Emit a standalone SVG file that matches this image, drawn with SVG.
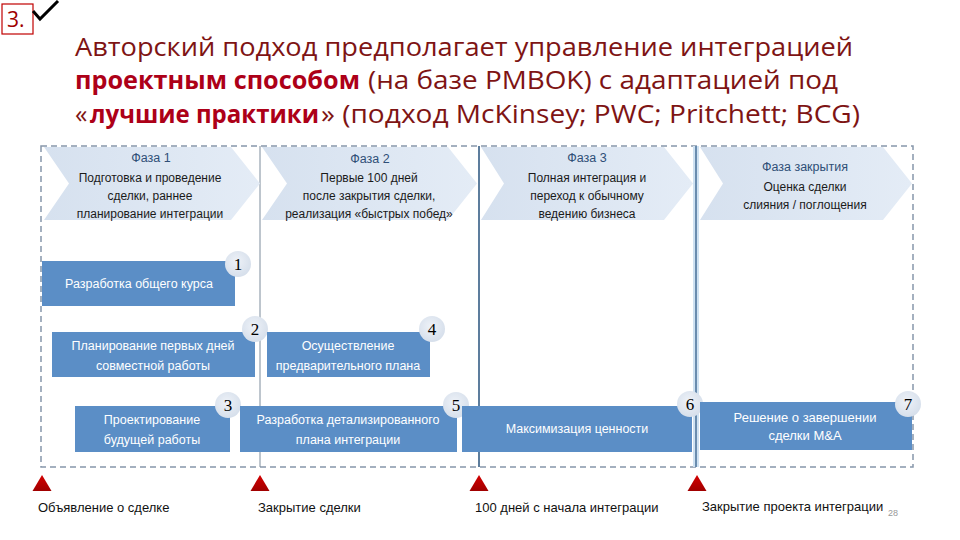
<svg xmlns="http://www.w3.org/2000/svg" width="960" height="540" viewBox="0 0 960 540">
<defs>
<linearGradient id="chev" x1="0" y1="0" x2="1" y2="0">
<stop offset="0" stop-color="#d6e1ef"/>
<stop offset="1" stop-color="#e4ecf6"/>
</linearGradient>
<radialGradient id="badge" cx="0.45" cy="0.4" r="0.6">
<stop offset="0" stop-color="#eef2f8"/>
<stop offset="1" stop-color="#d6dfeb"/>
</radialGradient>
<linearGradient id="tri" x1="0" y1="0" x2="0" y2="1">
<stop offset="0" stop-color="#d40000"/>
<stop offset="1" stop-color="#a00000"/>
</linearGradient>
</defs>
<style>
.title{font-family:"Open Sans","Noto Sans","Liberation Sans",sans-serif;font-size:25px;fill:#7e1414}
.titleb{font-family:"Open Sans","Noto Sans","Liberation Sans",sans-serif;font-size:25px;font-weight:bold;fill:#ad0018}
.chev{fill:url(#chev)}
.ph{font-family:"Liberation Sans","Noto Sans",sans-serif;font-size:12px;fill:#1a1a1a;text-anchor:middle}
.phh{font-family:"Liberation Sans","Noto Sans",sans-serif;font-size:12.5px;fill:#2f4f77;text-anchor:middle}
.box{fill:#5b8ec6}
.bt{font-family:"Liberation Sans","Noto Sans",sans-serif;font-size:12.5px;fill:#ffffff;text-anchor:middle}
.bt7{font-family:"Liberation Sans",Arial,sans-serif;font-size:13px;fill:#ffffff;text-anchor:middle}
.bdg{fill:url(#badge)}
.num{font-family:"Liberation Serif","Times New Roman",serif;font-size:17px;fill:#000;text-anchor:middle}
.frame{fill:none;stroke:#8797aa;stroke-width:1.5;stroke-dasharray:6 4}
.ms{fill:url(#tri)}
.lbl{font-family:"Liberation Sans","Noto Sans",sans-serif;font-size:13px;fill:#111}
</style>
<rect width="960" height="540" fill="#ffffff"/>

<g id="header">
<rect x="2" y="4" width="31" height="30" fill="#fff" stroke="#c00000" stroke-width="1.2"/>
<text x="7" y="27" font-family="Open Sans, Liberation Sans, sans-serif" font-size="21" fill="#a00000">3.</text>
<polyline points="33,11 40,19 58,1" fill="none" stroke="#000" stroke-width="3"/>
<text class="title" x="75" y="56" textLength="778" lengthAdjust="spacingAndGlyphs">Авторский подход предполагает управление интеграцией</text>
<text class="titleb" x="75" y="89" textLength="285" lengthAdjust="spacingAndGlyphs">проектным способом</text>
<text class="title" x="368" y="89" textLength="470" lengthAdjust="spacingAndGlyphs">(на базе PMBOK) с адаптацией под</text>
<text class="title" x="75" y="123">«</text>
<text class="titleb" x="90" y="123" textLength="229" lengthAdjust="spacingAndGlyphs">лучшие практики</text>
<text class="title" x="321" y="123" textLength="539" lengthAdjust="spacingAndGlyphs">» (подход McKinsey; PWC; Pritchett; BCG)</text>
</g>

<g id="frame">
<rect class="frame" x="41" y="146" width="872" height="321"/>
</g>

<g id="dividers">
<line x1="260" y1="146" x2="260" y2="467" stroke="#7d8c9c" stroke-width="1"/>
<line x1="479" y1="146" x2="479" y2="467" stroke="#5d7d9d" stroke-width="2"/>
<line x1="696" y1="146" x2="696" y2="467" stroke="#cfe2f2" stroke-width="6"/>
<line x1="696" y1="146" x2="696" y2="467" stroke="#6a8cae" stroke-width="2"/>
</g>

<g id="phase1">
<path class="chev" d="M44,147 L231,147 L260,183.5 L231,220 L44,220 L69,183.5 Z"/>
<text class="phh" x="151" y="162">Фаза 1</text>
<text class="ph" x="150" y="182">Подготовка и проведение</text>
<text class="ph" x="150" y="200">сделки, раннее</text>
<text class="ph" x="150" y="218">планирование интеграции</text>
</g>
<g id="phase2">
<path class="chev" d="M262,147 L448,147 L477,183.5 L448,220 L262,220 L287,183.5 Z"/>
<text class="phh" x="370" y="163">Фаза 2</text>
<text class="ph" x="369" y="182">Первые 100 дней</text>
<text class="ph" x="369" y="200">после закрытия сделки,</text>
<text class="ph" x="369" y="218">реализация «быстрых побед»</text>
</g>
<g id="phase3">
<path class="chev" d="M481,147 L664,147 L693,183.5 L664,220 L481,220 L504,183.5 Z"/>
<text class="phh" x="587" y="162">Фаза 3</text>
<text class="ph" x="587" y="182">Полная интеграция и</text>
<text class="ph" x="587" y="200">переход к обычному</text>
<text class="ph" x="587" y="218">ведению бизнеса</text>
</g>
<g id="phase-close">
<path class="chev" d="M700,147 L883,147 L912,183.5 L883,220 L700,220 L723,183.5 Z"/>
<text class="phh" x="805" y="171">Фаза закрытия</text>
<text class="ph" x="805" y="191">Оценка сделки</text>
<text class="ph" x="805" y="209">слияния / поглощения</text>
</g>

<g id="task1">
<rect class="box" x="42" y="261" width="193" height="45"/>
<text class="bt" x="139" y="288">Разработка общего курса</text>
<circle class="bdg" cx="238" cy="264" r="13"/>
<text class="num" x="238" y="270">1</text>
</g>
<g id="task2">
<rect class="box" x="52" y="332" width="203" height="45"/>
<text class="bt" x="153" y="350">Планирование первых дней</text>
<text class="bt" x="153" y="370">совместной работы</text>
<circle class="bdg" cx="255" cy="329" r="13"/>
<text class="num" x="255" y="335">2</text>
</g>
<g id="task3">
<rect class="box" x="75" y="406" width="155" height="46"/>
<text class="bt" x="152" y="424">Проектирование</text>
<text class="bt" x="152" y="444">будущей работы</text>
<circle class="bdg" cx="228" cy="405" r="13"/>
<text class="num" x="228" y="411">3</text>
</g>
<g id="task4">
<rect class="box" x="267" y="332" width="163" height="45"/>
<text class="bt" x="348" y="350">Осуществление</text>
<text class="bt" x="348" y="370">предварительного плана</text>
<circle class="bdg" cx="432" cy="329" r="13"/>
<text class="num" x="432" y="335">4</text>
</g>
<g id="task5">
<rect class="box" x="240" y="406" width="217" height="46"/>
<text class="bt" x="348" y="424">Разработка детализированного</text>
<text class="bt" x="348" y="444">плана интеграции</text>
<circle class="bdg" cx="456" cy="405" r="13"/>
<text class="num" x="456" y="411">5</text>
</g>
<g id="task6">
<rect class="box" x="462" y="406" width="230" height="46"/>
<text class="bt" x="577" y="433">Максимизация ценности</text>
<circle class="bdg" cx="690" cy="404" r="13"/>
<text class="num" x="690" y="410">6</text>
</g>
<g id="task7">
<rect class="box" x="700" y="402" width="212" height="48"/>
<text class="bt7" x="805" y="422">Решение о завершении</text>
<text class="bt7" x="805" y="440">сделки M&amp;A</text>
<circle class="bdg" cx="908" cy="404" r="13"/>
<text class="num" x="908" y="410">7</text>
</g>

<g id="milestones">
<path class="ms" d="M42,475 L51.5,491 L32.5,491 Z"/>
<path class="ms" d="M260,475 L269.5,491 L250.5,491 Z"/>
<path class="ms" d="M479,475 L488.5,491 L469.5,491 Z"/>
<path class="ms" d="M697,475 L706.5,491 L687.5,491 Z"/>
<text class="lbl" x="38" y="512">Объявление о сделке</text>
<text class="lbl" x="258" y="512">Закрытие сделки</text>
<text class="lbl" x="475" y="512">100 дней с начала интеграции</text>
<text class="lbl" x="702" y="511">Закрытие проекта интеграции</text>
<text x="888" y="516" font-family="Liberation Sans, sans-serif" font-size="9" fill="#999">28</text>
</g>
</svg>
